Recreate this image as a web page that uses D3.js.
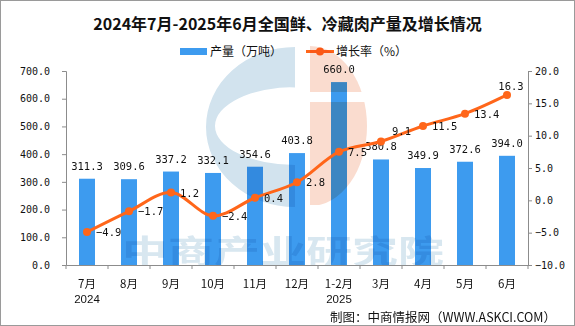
<!DOCTYPE html>
<html>
<head>
<meta charset="utf-8">
<script src="https://cdn.jsdelivr.net/npm/d3@7/dist/d3.min.js"></script>
<style>
  html, body { margin: 0; padding: 0; background: #fff; }
  svg { display: block; }
</style>
</head>
<body>
<svg id="chart" width="575" height="326"></svg>
<script>
// ---- data ----
const categories = ["7月", "8月", "9月", "10月", "11月", "12月", "1-2月", "3月", "4月", "5月", "6月"];
const yearLabels = ["2024", "", "", "", "", "", "2025", "", "", "", ""];
const production = [311.3, 309.6, 337.2, 332.1, 354.6, 403.8, 660.0, 380.8, 349.9, 372.6, 394.0];
const growth = [-4.9, -1.7, 1.2, -2.4, 0.4, 2.8, 7.5, 9.1, 11.5, 13.4, 16.3];
const leftTicks = [0, 100, 200, 300, 400, 500, 600, 700];
const rightTicks = [-10, -5, 0, 5, 10, 15, 20];
// label placement for the growth labels (r = right, ur = upper right, t = top)
const growthLabelPlace = ["r", "r", "r", "r", "r", "r", "r", "ur", "r", "r", "t"];

const W = 575, H = 326;
const plot = { left: 66, right: 528, top: 71, bottom: 265 };
const barColor = "#3D9BEF";
const lineColor = "#FF661A";
const axisColor = "#8C8C8C";
const monoFont = "'DejaVu Sans Mono', monospace";
const cjkFont = "'Noto Sans CJK SC', 'Noto Sans', sans-serif";

const svg = d3.select("#chart");

// frame
svg.append("rect").attr("x", 0.5).attr("y", 0.5).attr("width", W - 1).attr("height", H - 1)
  .attr("fill", "#fff").attr("stroke", "#9a9a9a");

const x = d3.scaleBand().domain(categories).range([plot.left, plot.right]).paddingInner(0).paddingOuter(0);
const yL = d3.scaleLinear().domain([0, 700]).range([plot.bottom, plot.top]);
const yR = d3.scaleLinear().domain([-10, 20]).range([plot.bottom, plot.top]);
const barW = 16;

// title
svg.append("text").attr("x", 287.5).attr("y", 30).attr("text-anchor", "middle")
  .attr("font-family", cjkFont).attr("font-weight", "bold").attr("font-size", 16).attr("fill", "#111")
  .text("2024年7月-2025年6月全国鲜、冷藏肉产量及增长情况");

// legend
const lg = svg.append("g");
lg.append("rect").attr("x", 180).attr("y", 48).attr("width", 27).attr("height", 7).attr("fill", barColor);
lg.append("text").attr("x", 210).attr("y", 56).attr("font-family", cjkFont).attr("font-size", 12).attr("fill", "#111")
  .text("产量（万吨）");
lg.append("line").attr("x1", 306).attr("x2", 334).attr("y1", 51.5).attr("y2", 51.5)
  .attr("stroke", lineColor).attr("stroke-width", 3);
lg.append("circle").attr("cx", 320).attr("cy", 51.5).attr("r", 4).attr("fill", lineColor);
lg.append("text").attr("x", 336).attr("y", 56).attr("font-family", cjkFont).attr("font-size", 12).attr("fill", "#111")
  .text("增长率（%）");

// bars
svg.append("g").selectAll("rect").data(production).join("rect")
  .attr("x", (d, i) => x(categories[i]) + x.bandwidth() / 2 - barW / 2)
  .attr("y", d => yL(d))
  .attr("width", barW)
  .attr("height", d => plot.bottom - yL(d))
  .attr("fill", barColor);

// watermark
const defs = svg.append("defs");
const cp = defs.append("clipPath").attr("id", "plotClip");
cp.append("rect").attr("x", 0).attr("y", 0).attr("width", W).attr("height", plot.bottom);
const cpO = defs.append("clipPath").attr("id", "orangeClip");
cpO.append("rect").attr("x", 0).attr("y", 0).attr("width", W).attr("height", 92);
cpO.append("rect").attr("x", 0).attr("y", 102).attr("width", W).attr("height", 103);

const wm = svg.append("g").attr("clip-path", "url(#plotClip)").style("mix-blend-mode", "multiply");
wm.append("path")
  .attr("d", "M295,47 A89,80 0 0 0 295,207 Z M295,87 A80,39 0 0 0 295,165 Z")
  .attr("fill-rule", "evenodd").attr("fill", "#D2E3EE").style("mix-blend-mode", "multiply");
wm.append("path")
  .attr("d", "M310,46 A57,80 0 0 1 310,206 Z")
  .attr("clip-path", "url(#orangeClip)")
  .attr("fill", "#FADCCF").style("mix-blend-mode", "multiply");
wm.append("text").attr("transform", "translate(122,263) scale(1,0.7)")
  .attr("font-family", cjkFont).attr("font-weight", "bold").attr("font-size", 46)
  .attr("fill", "#D8E7F0").style("mix-blend-mode", "multiply")
  .text("中商产业研究院");

// axes
const axL = d3.axisLeft(yL).tickValues(leftTicks).tickSize(4).tickPadding(12).tickFormat(d3.format(".1f"));
const gL = svg.append("g").attr("transform", `translate(${plot.left},0)`).call(axL);
const axR = d3.axisRight(yR).tickValues(rightTicks).tickSize(4).tickPadding(4).tickFormat(d3.format(".1f"));
const gR = svg.append("g").attr("transform", `translate(${plot.right},0)`).call(axR);
const axB = d3.axisBottom(x).tickSize(0).tickFormat("");
const gB = svg.append("g").attr("transform", `translate(0,${plot.bottom})`).call(axB);
[gL, gR, gB].forEach(g => {
  g.select(".domain").attr("stroke", axisColor);
  g.selectAll(".tick line").attr("stroke", axisColor);
  g.selectAll(".tick text").attr("font-family", monoFont).attr("font-size", 10).attr("fill", "#111");
});
gB.selectAll(".tick text").remove();
gR.selectAll(".tick text").attr("x", 7);
// category boundary ticks
const bounds = categories.map(c => x(c)).concat([plot.right]);
svg.append("g").selectAll("line").data(bounds).join("line")
  .attr("x1", d => d).attr("x2", d => d).attr("y1", plot.bottom).attr("y2", plot.bottom + 4)
  .attr("stroke", axisColor);

// x labels
const xl = svg.append("g").attr("fill", "#111").attr("text-anchor", "middle");
xl.selectAll("text.cat").data(categories).join("text").attr("class", "cat")
  .attr("font-family", cjkFont).attr("font-size", 11.5)
  .attr("x", d => x(d) + x.bandwidth() / 2).attr("y", 288).text(d => d);
const yearItems = yearLabels.map((t, i) => ({ t, c: categories[i] })).filter(o => o.t);
xl.selectAll("text.yr").data(yearItems).join("text").attr("class", "yr")
  .attr("font-family", "'Liberation Sans', Arial, sans-serif").attr("font-size", 11.5)
  .attr("x", o => x(o.c) + x.bandwidth() / 2).attr("y", 302.5).text(o => o.t);

// bar labels
svg.append("g").selectAll("text").data(production).join("text")
  .attr("x", (d, i) => x(categories[i]) + x.bandwidth() / 2)
  .attr("y", d => yL(d) - 9)
  .attr("text-anchor", "middle").attr("font-family", monoFont).attr("font-size", 10.5).attr("fill", "#111")
  .text(d => d3.format(".1f")(d));

// line
const cx = i => x(categories[i]) + x.bandwidth() / 2;
const line = d3.line().x((d, i) => cx(i)).y(d => yR(d)).curve(d3.curveCatmullRom.alpha(0.5));
svg.append("path").datum(growth).attr("d", line).attr("fill", "none")
  .attr("stroke", lineColor).attr("stroke-width", 3).attr("stroke-linejoin", "round");
svg.append("g").selectAll("circle").data(growth).join("circle")
  .attr("cx", (d, i) => cx(i)).attr("cy", d => yR(d)).attr("r", 4).attr("fill", lineColor);

// growth labels
svg.append("g").selectAll("text").data(growth).join("text")
  .attr("x", (d, i) => {
    const p = growthLabelPlace[i];
    return p === "t" ? cx(i) + 4 : p === "ur" ? cx(i) + 11 : cx(i) + 9;
  })
  .attr("y", (d, i) => {
    const p = growthLabelPlace[i];
    return p === "t" ? yR(d) - 5 : p === "ur" ? yR(d) - 6 : yR(d) + 4;
  })
  .attr("text-anchor", (d, i) => growthLabelPlace[i] === "t" ? "middle" : "start")
  .attr("font-family", monoFont).attr("font-size", 10.5).attr("fill", "#111")
  .text(d => d3.format(".1f")(d));

// source
svg.append("text").attr("x", 556).attr("y", 322).attr("text-anchor", "end")
  .attr("font-family", cjkFont).attr("font-size", 12.5).attr("fill", "#111")
  .text("制图：中商情报网（WWW.ASKCI.COM）");
</script>
</body>
</html>
